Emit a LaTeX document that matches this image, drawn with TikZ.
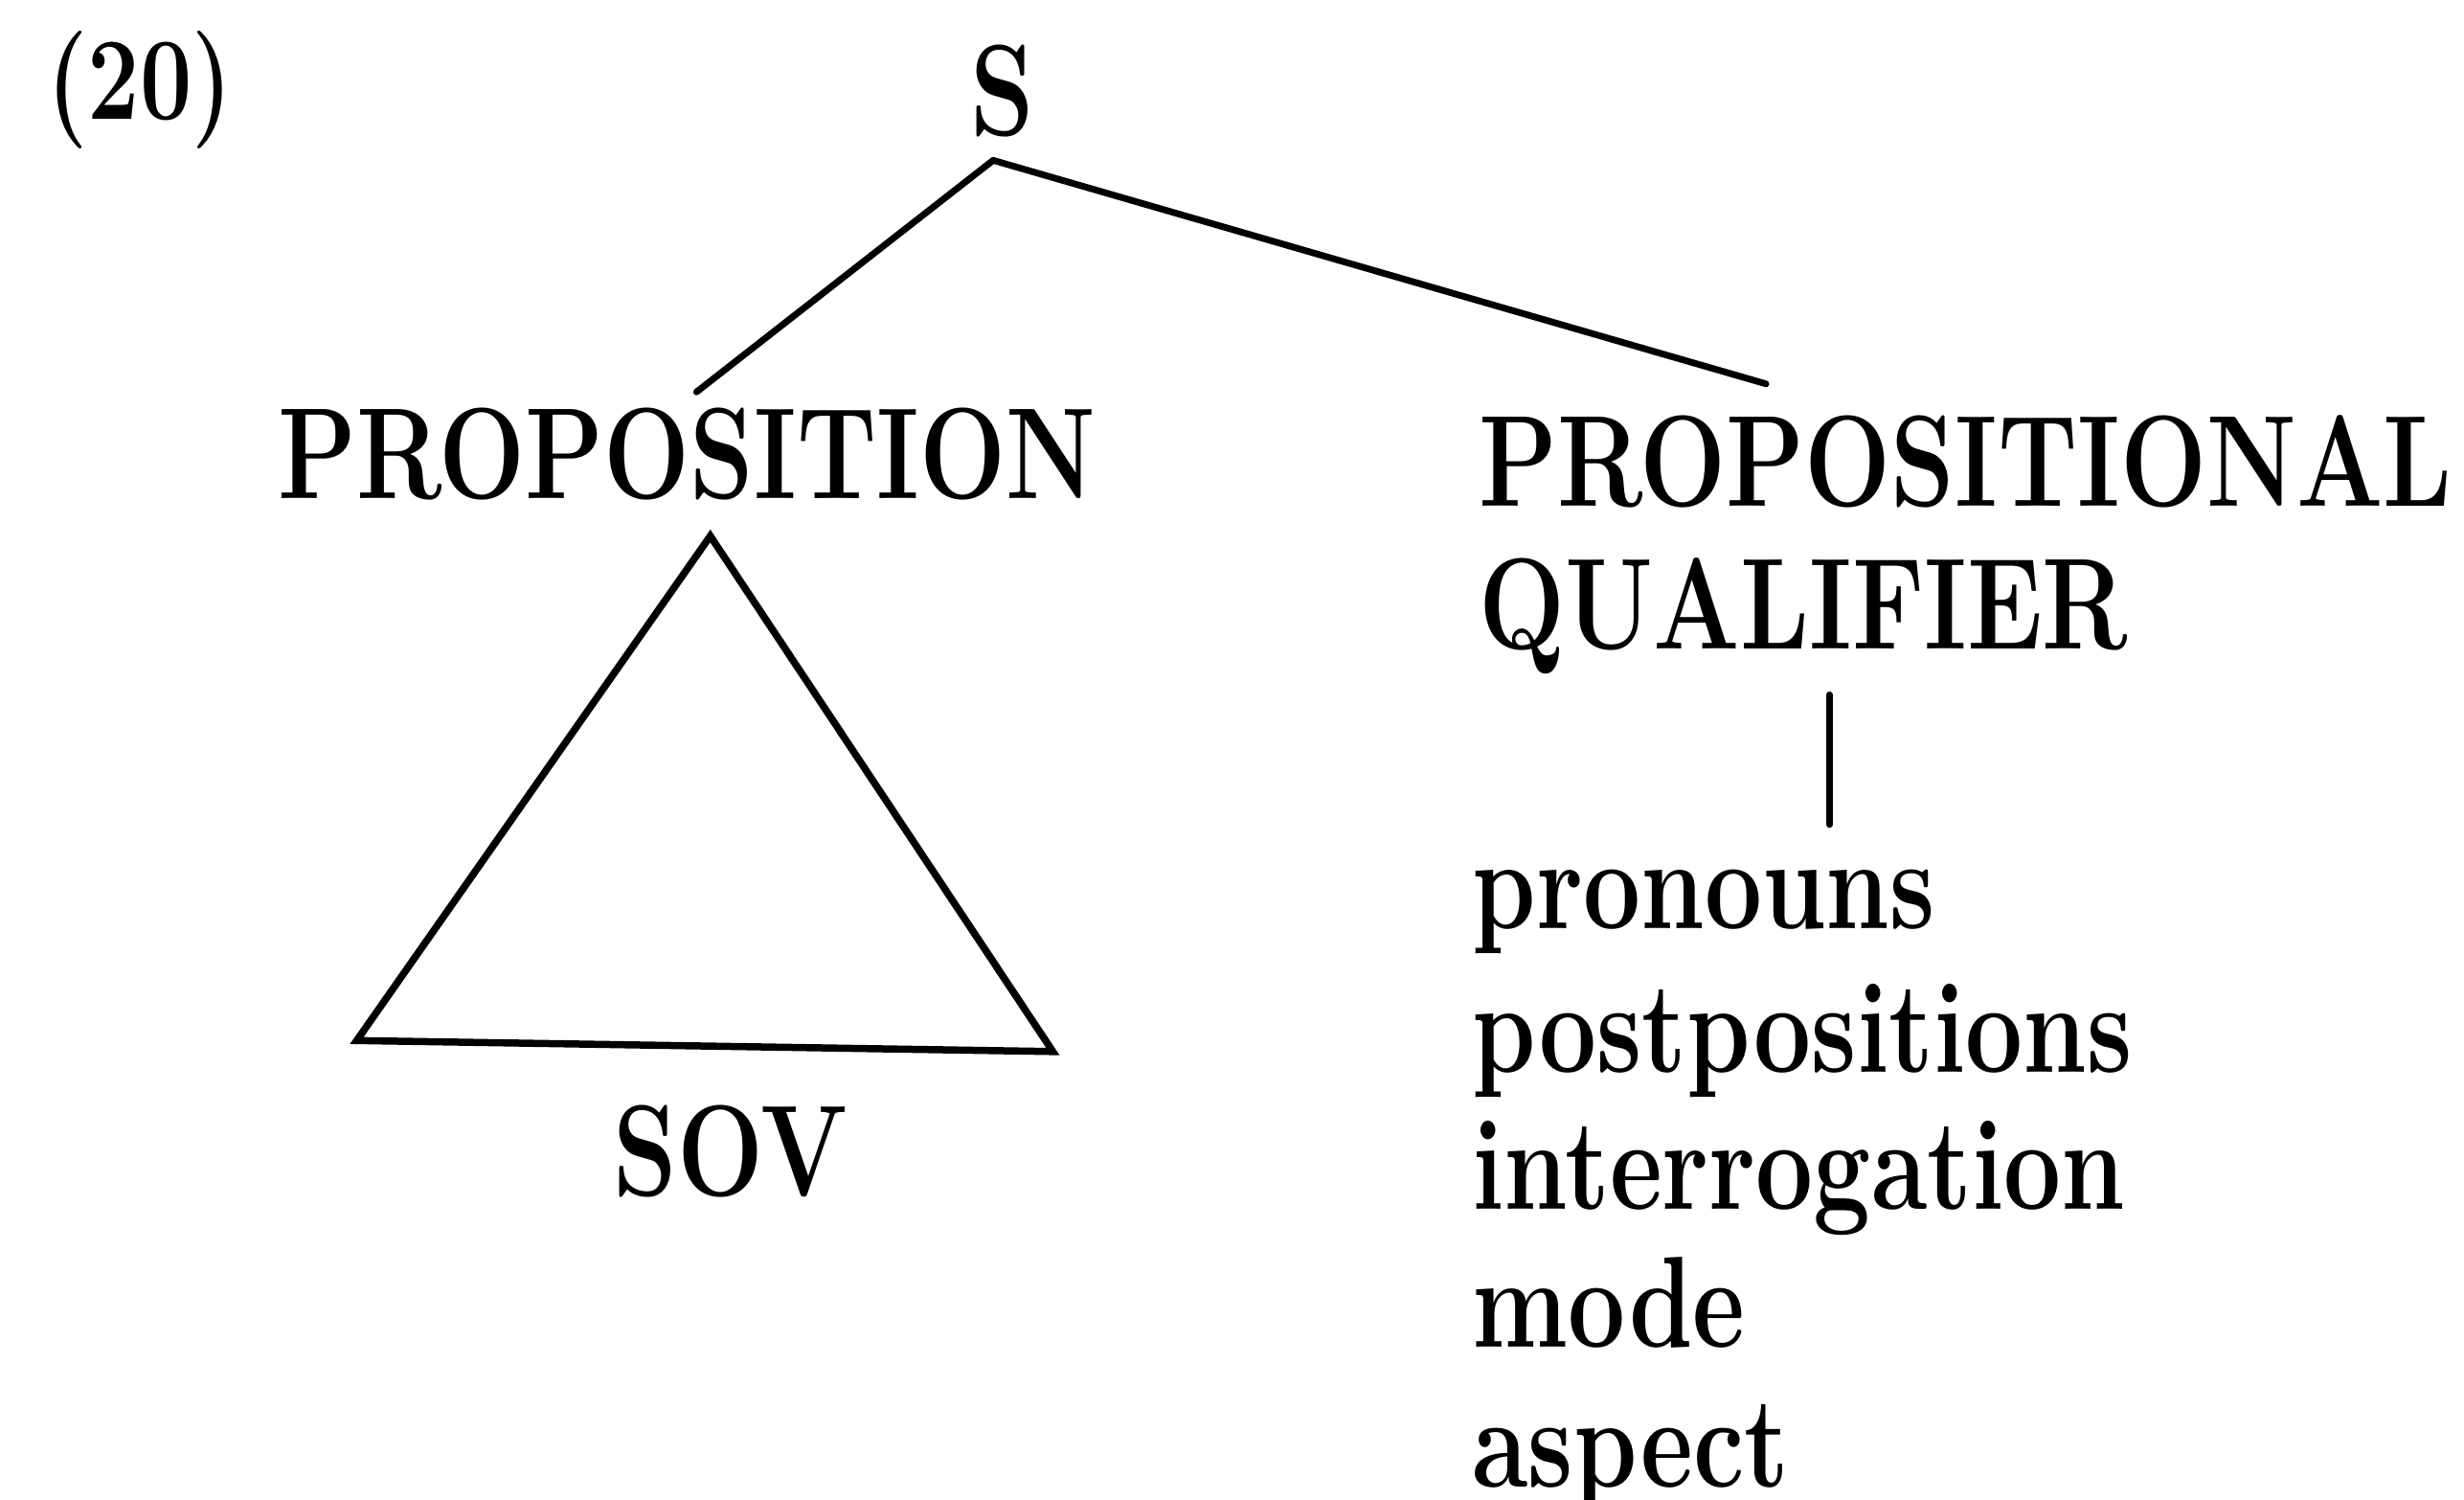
\documentclass[tikz,border=0pt]{standalone}
\usepackage{fontspec}
\usepackage{graphicx}
\usetikzlibrary{calc}
\newcommand{\tallt}[1]{\scalebox{1}[1.27]{#1}}
\tikzset{
  lbl/.style={inner sep=0pt, outer sep=0pt, font=\fontsize{37}{44}\selectfont\bfseries},
  exlbl/.style={lbl, font=\fontsize{33.5}{40}\selectfont\bfseries},
  branch/.style={line width=2.4pt, line cap=round},
  tri/.style={line width=2.6pt, line join=miter},
}
\begin{document}
\begin{tikzpicture}[x=0.02cm,y=-0.02cm]
\fill[white] (0,0) rectangle (1568,954);
\useasboundingbox (0,0) rectangle (1568,954);
% labels
\node[exlbl, anchor=base] (ex) at (89,76) {\tallt{(20)}};
\node[lbl, anchor=base] (S) at (638,86) {\tallt{S}};
\node[lbl, anchor=base west] (prop) at (177,317) {\tallt{PROPOSITION}};
\node[lbl, anchor=base west] (pq) at (941,322) {\tallt{PROPOSITIONAL}};
\node[lbl, anchor=base west] (qual) at (941,413) {\tallt{QUALIFIER}};
\node[lbl, anchor=base] (sov) at (465,761) {\tallt{SOV}};
\node[lbl, anchor=base west] (i1) at (937,591) {\tallt{pronouns}};
\node[lbl, anchor=base west] (i2) at (937,682) {\tallt{postpositions}};
\node[lbl, anchor=base west] (i3) at (937,769.5) {\tallt{interrogation}};
\node[lbl, anchor=base west] (i4) at (937,857) {\tallt{mode}};
\node[lbl, anchor=base west] (i5) at (937,946) {\tallt{aspect}};
% connector end points
\coordinate (Sapex) at ($(S.south)+(-6,15)$);
\coordinate (propTop) at ($(prop.north)+(6,-10)$);
\coordinate (pqTop) at ($(pq.north west)!0.295!(pq.north east)+(0,-20)$);
\coordinate (vT) at ($(qual.south west)!0.54!(qual.south east)+(0,13)$);
\coordinate (vB) at ($(vT |- i1.north)+(0,-29)$);
% branches
\draw[branch] (Sapex) -- (propTop);
\draw[branch] (Sapex) -- (pqTop);
\draw[branch] (vT) -- (vB);
% triangle
\coordinate (tA) at (452,341);
\coordinate (tB) at (227,662);
\coordinate (tC) at (670,669);
\draw[tri] (tA) -- (tB) -- (tC) -- cycle;
\end{tikzpicture}
\end{document}
